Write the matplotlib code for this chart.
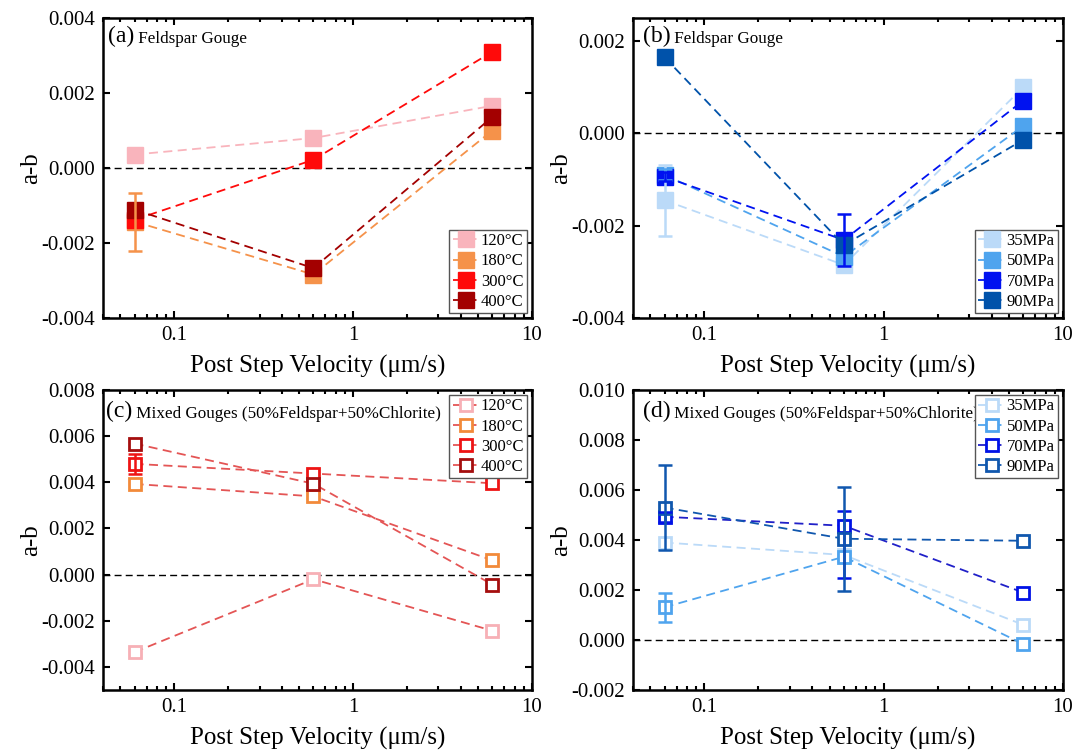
import matplotlib
matplotlib.use('Agg')
import matplotlib.pyplot as plt
import numpy as np
from matplotlib.ticker import FormatStrFormatter, LogLocator, NullFormatter

plt.rcParams['font.family'] = ['Liberation Serif', 'DejaVu Serif']
plt.rcParams['axes.unicode_minus'] = False

velocity = np.array([0.06, 0.6, 6])

temps = ['120°C', '180°C', '300°C', '400°C']
pressures = ['35MPa', '50MPa', '70MPa', '90MPa']

# (a) feldspar gouge, temperature series
a_120 = [0.00036, 0.00080, 0.00166]
a_180 = [-0.00143, -0.00284, 0.00100]
a_300 = [-0.00138, 0.00022, 0.00310]
a_400 = [-0.00111, -0.00267, 0.00136]
a_err_180 = [0.00077, 0, 0]

# (b) feldspar gouge, pressure series
b_35 = [-0.00145, -0.00285, 0.00100]
b_50 = [-0.00090, -0.00267, 0.00016]
b_70 = [-0.00094, -0.00231, 0.00071]
b_90 = [0.00165, -0.00242, -0.00014]
b_err_35 = [0.00077, 0, 0]
b_err_50 = [0.00012, 0, 0]
b_err_70 = [0.00010, 0.00057, 0]

# (c) mixed gouge, temperature series
c_120 = [-0.00336, -0.00020, -0.00243]
c_180 = [0.00393, 0.00339, 0.00062]
c_300 = [0.00480, 0.00438, 0.00396]
c_400 = [0.00568, 0.00394, -0.00043]
c_err_300 = [0.00043, 0, 0]

# (d) mixed gouge, pressure series
d_35 = [0.00390, 0.00340, 0.00061]
d_50 = [0.00131, 0.00333, -0.00016]
d_70 = [0.00493, 0.00457, 0.00190]
d_90 = [0.00530, 0.00405, 0.00397]
d_err_50 = [0.00059, 0, 0]
d_err_70 = [[0.00020, 0.00210, 0], [0.00020, 0.00060, 0]]  # lower, upper
d_err_90 = [0.00170, 0.00208, 0]

red_cols = ['#F9B4BC', '#F5924A', '#FF0A0A', '#A30000']
blue_cols = ['#BBDAF8', '#4FA4EE', '#0012F0', '#0052AA']

fig = plt.figure(figsize=(10.87, 7.55), dpi=100)
ax_a = fig.add_axes([0.0948, 0.5788, 0.3946, 0.3973])
ax_b = fig.add_axes([0.5823, 0.5788, 0.3956, 0.3973])
ax_c = fig.add_axes([0.0948, 0.0861, 0.3946, 0.3973])
ax_d = fig.add_axes([0.5823, 0.0861, 0.3956, 0.3973])


def style(ax, ylim, yticks):
    ax.set_xscale('log')
    ax.set_xlim(0.04, 10)
    ax.set_ylim(*ylim)
    ax.set_xticks([0.1, 1, 10])
    ax.set_xticklabels(['0.1', '1', '10'])
    ax.xaxis.set_minor_locator(LogLocator(base=10, subs=np.arange(2, 10)))
    ax.xaxis.set_minor_formatter(NullFormatter())
    ax.set_yticks(yticks)
    ax.yaxis.set_major_formatter(FormatStrFormatter('%.3f'))
    ax.tick_params(which='both', direction='in', top=True, right=True, labelsize=15, width=1.5)
    ax.tick_params(which='major', length=5, pad=6)
    ax.tick_params(which='minor', length=3)
    for s in ax.spines.values():
        s.set_linewidth(1.8)
    ax.axhline(0, color='k', ls='--', lw=1, dashes=(5, 3), zorder=1)
    ax.set_xlabel('Post Step Velocity (\u03bcm/s)', fontsize=18, labelpad=7)
    ax.set_ylabel('a-b', fontsize=18, labelpad=-1)


def title(ax, tag, text, x, y):
    t = ax.text(x, y, tag, transform=ax.transAxes, fontsize=17, va='top', ha='left')
    ax.annotate(' ' + text, xy=(1, 0), xycoords=t, fontsize=12.3, va='bottom', ha='left')


def draw(ax, series, errs, labels, cols, filled, line_cols=None):
    for i, (y, lab, c) in enumerate(zip(series, labels, cols)):
        lc = line_cols[i] if line_cols else c
        y = np.array(y)
        if filled:
            ax.plot(velocity, y, ls='--', dashes=(5, 3), color=lc, lw=1.3, marker='s', ms=11,
                    mfc=c, mec=c, label=lab, zorder=3)
        else:
            ax.plot(velocity, y, ls='--', dashes=(5, 3), color=lc, lw=1.3, marker='s', ms=9,
                    mfc='white', mec=c, mew=2, label=lab, zorder=3)
        e = errs[i]
        if e is not None:
            e = np.array(e)
            if e.ndim == 1:
                e = np.vstack([e, e])
            m = e.sum(axis=0) > 0
            ax.errorbar(velocity[m], y[m], yerr=e[:, m], fmt='none', ecolor=c, elinewidth=1.8,
                        capsize=5, capthick=1.8, zorder=4)


draw(ax_a, [a_120, a_180, a_300, a_400], [None, a_err_180, None, None], temps, red_cols, True)
draw(ax_b, [b_35, b_50, b_70, b_90], [b_err_35, b_err_50, b_err_70, None], pressures, blue_cols, True)
draw(ax_c, [c_120, c_180, c_300, c_400], [None, None, c_err_300, None], temps,
     ['#F7B0B6', '#F28A3A', '#EE1414', '#A50E0E'], False, line_cols=['#E45555'] * 4)
draw(ax_d, [d_35, d_50, d_70, d_90], [None, d_err_50, d_err_70, d_err_90], pressures,
     ['#BBDAF8', '#4FA4EE', '#0012E6', '#1057AE'], False,
     line_cols=['#BBDAF8', '#4FA4EE', '#2020C8', '#1057AE'])

style(ax_a, (-0.004, 0.004), [-0.004, -0.002, 0.0, 0.002, 0.004])
style(ax_b, (-0.004, 0.0025), [-0.004, -0.002, 0.0, 0.002])
style(ax_c, (-0.005, 0.008), [-0.004, -0.002, 0.0, 0.002, 0.004, 0.006, 0.008])
style(ax_d, (-0.002, 0.010), [-0.002, 0.0, 0.002, 0.004, 0.006, 0.008, 0.010])

title(ax_a, '(a)', 'Feldspar Gouge', 0.012, 0.975)
title(ax_b, '(b)', 'Feldspar Gouge', 0.023, 0.975)
title(ax_c, '(c)', 'Mixed Gouges (50%Feldspar+50%Chlorite)', 0.007, 0.965)
title(ax_d, '(d)', 'Mixed Gouges (50%Feldspar+50%Chlorite)', 0.023, 0.965)

for ax, loc in [(ax_a, 'lower right'), (ax_b, 'lower right'), (ax_c, 'upper right'), (ax_d, 'upper right')]:
    leg = ax.legend(loc=loc, fontsize=12, frameon=True, fancybox=False, framealpha=1,
                    edgecolor='#555555', handlelength=1.6, handletextpad=0.1,
                    labelspacing=0.25, borderpad=0.2, borderaxespad=0.3)
    leg.get_frame().set_linewidth(1.0)

fig.savefig('out.png', dpi=100)
